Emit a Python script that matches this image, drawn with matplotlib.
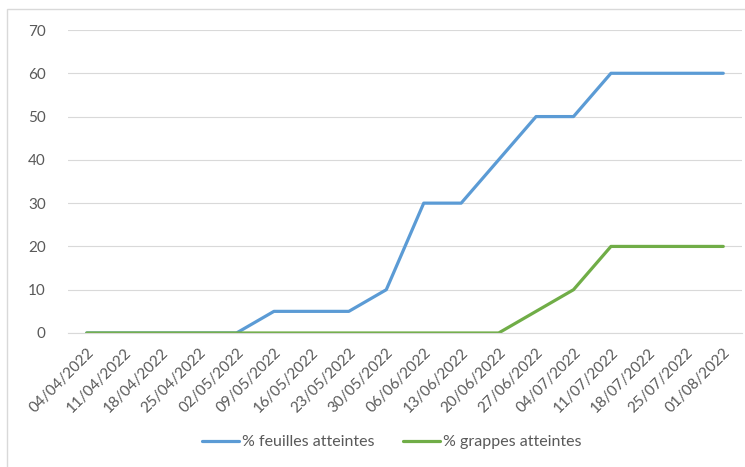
import matplotlib
matplotlib.use('Agg')
import matplotlib.pyplot as plt
from matplotlib.patches import Rectangle

dates = ['04/04/2022', '11/04/2022', '18/04/2022', '25/04/2022', '02/05/2022',
         '09/05/2022', '16/05/2022', '23/05/2022', '30/05/2022', '06/06/2022',
         '13/06/2022', '20/06/2022', '27/06/2022', '04/07/2022', '11/07/2022',
         '18/07/2022', '25/07/2022', '01/08/2022']
feuilles = [0, 0, 0, 0, 0, 5, 5, 5, 10, 30, 30, 40, 50, 50, 60, 60, 60, 60]
grappes = [0, 0, 0, 0, 0, 0, 0, 0, 0, 0, 0, 0, 5, 10, 20, 20, 20, 20]

plt.rcParams['font.family'] = ['Lato', 'DejaVu Sans']
grey = '#595959'

fig = plt.figure(figsize=(7.45, 4.67), dpi=100)
fig.patches.append(Rectangle((7 / 745, -0.05), 1.2, 1 - 9 / 467 + 0.05,
                             transform=fig.transFigure, fill=False,
                             edgecolor='#D9D9D9', linewidth=1.0))
ax = fig.add_axes([68 / 745, 1 - 333 / 467, (742 - 68) / 745, (333 - 30) / 467])

x = range(len(dates))
l1, = ax.plot(x, feuilles, color='#5B9BD5', linewidth=2.3, solid_capstyle='round',
              label='% feuilles atteintes')
l2, = ax.plot(x, grappes, color='#70AD47', linewidth=2.3, solid_capstyle='round',
              label='% grappes atteintes')

ax.set_xlim(-0.5, len(dates) - 0.5)
ax.set_ylim(0, 70)
ax.set_yticks(range(0, 71, 10))
ax.grid(axis='y', color='#D9D9D9', linewidth=0.8)
ax.set_axisbelow(True)
for s in ['top', 'right', 'left']:
    ax.spines[s].set_visible(False)
ax.spines['bottom'].set_color('#D9D9D9')
ax.tick_params(axis='both', length=0, colors=grey, labelsize=11)
ax.tick_params(axis='y', pad=16)
ax.set_xticks(list(x))
ax.set_xticklabels(dates, rotation=45, ha='right', va='top', rotation_mode='anchor')
ax.tick_params(axis='x', pad=9)

leg = fig.legend(handles=[l1, l2], loc='center', bbox_to_anchor=(392 / 745, 1 - 442 / 467),
                 ncol=2, frameon=False, fontsize=11.5, handlelength=2.3,
                 handletextpad=0.2, columnspacing=1.8)
for t in leg.get_texts():
    t.set_color(grey)

fig.savefig('out.png', dpi=100)
